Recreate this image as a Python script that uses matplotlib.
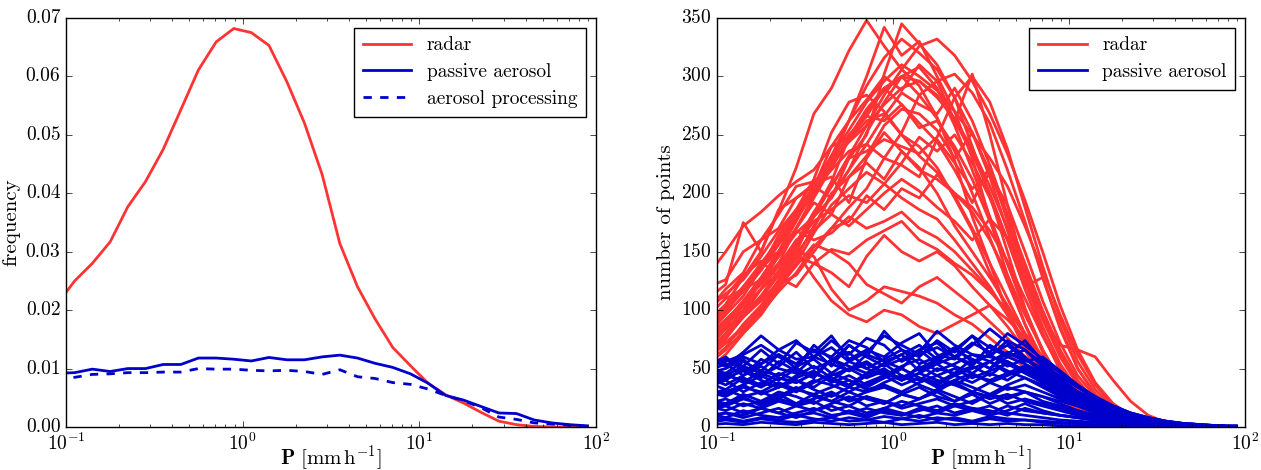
import numpy as np
import matplotlib
matplotlib.use('Agg')
import matplotlib.pyplot as plt
from matplotlib.ticker import FormatStrFormatter

plt.style.use('classic')
plt.rcParams['figure.facecolor'] = 'white'
plt.rcParams['savefig.facecolor'] = 'white'
plt.rcParams['font.family'] = ['cmr10', 'DejaVu Serif']
plt.rcParams['mathtext.fontset'] = 'cm'
plt.rcParams['axes.formatter.use_mathtext'] = True
plt.rcParams['font.size'] = 14
plt.rcParams['xtick.labelsize'] = 14
plt.rcParams['ytick.labelsize'] = 14
plt.rcParams['axes.labelsize'] = 15

# bin centres of precipitation rate [mm/h]
p_bins = [0.089, 0.112, 0.141, 0.178, 0.224, 0.282, 0.355, 0.447, 0.562, 0.708,
          0.891, 1.12, 1.41, 1.78, 2.24, 2.82, 3.55, 4.47, 5.62, 7.08,
          8.91, 11.2, 14.1, 17.8, 22.4, 28.2, 35.5, 44.7, 56.2, 70.8, 89.1]

# left panel: normalised frequency
freq_radar = [0.0210, 0.0250, 0.0280, 0.0317, 0.0377, 0.0420, 0.0475, 0.0543, 0.0611, 0.0659,
              0.0682, 0.0675, 0.0653, 0.0591, 0.0520, 0.0432, 0.0314, 0.0240, 0.0185, 0.0136,
              0.0105, 0.0075, 0.0055, 0.0041, 0.0025, 0.0010, 0.0004, 0.0001, 0.0, 0.0, 0.0]
freq_passive = [0.0092, 0.0093, 0.0099, 0.0095, 0.0100, 0.0100, 0.0107, 0.0107, 0.0118, 0.0118,
                0.0116, 0.0113, 0.0119, 0.0115, 0.0115, 0.0120, 0.0123, 0.0118, 0.0109, 0.0102,
                0.0091, 0.0075, 0.0054, 0.0046, 0.0035, 0.0024, 0.0023, 0.0012, 0.0007, 0.0004, 0.0002]
freq_processing = [0.0080, 0.0085, 0.0090, 0.0091, 0.0093, 0.0093, 0.0094, 0.0094, 0.0100, 0.0099,
                   0.0099, 0.0097, 0.0096, 0.0097, 0.0095, 0.0090, 0.0098, 0.0086, 0.0083, 0.0076,
                   0.0073, 0.0065, 0.0054, 0.0045, 0.0033, 0.0017, 0.0013, 0.0007, 0.0005, 0.0003, 0.0001]

# right panel: counts per case
radar_counts = [
    [90,105,128,150,185,222,268,290,322,348,326,306,292,265,228,180,140,98,66,40,24,14,8,4,2,1,0,0,0,0,0],
    [70,88,100,126,150,180,205,240,262,300,342,318,330,300,270,230,178,130,88,52,30,16,9,4,2,1,0,0,0,0,0],
    [110,122,175,150,186,196,206,196,230,250,302,345,328,310,282,240,198,150,102,64,38,20,11,6,3,1,0,0,0,0,0],
    [60,75,96,118,140,170,198,228,262,280,300,288,310,296,262,302,250,190,132,80,48,26,14,7,3,1,0,0,0,0,0],
    [80,96,112,136,164,186,212,252,278,284,270,250,232,218,198,170,140,110,80,52,30,18,10,5,2,1,0,0,0,0,0],
    [55,68,88,104,126,150,182,210,248,266,290,276,256,262,240,212,176,140,100,66,40,22,12,6,3,1,0,0,0,0,0],
    [100,118,132,160,182,206,210,224,246,262,268,250,240,222,196,168,132,100,70,44,26,14,8,4,2,1,0,0,0,0,0],
    [65,80,100,118,138,160,170,200,214,232,258,272,268,254,230,252,214,168,124,86,54,32,18,10,4,2,1,0,0,0,0],
    [85,100,120,140,150,170,192,182,214,226,212,236,222,200,172,150,128,104,78,54,34,20,12,6,3,1,0,0,0,0,0],
    [50,62,80,96,118,140,166,190,204,218,208,226,248,236,250,226,196,160,118,80,50,30,16,8,4,2,1,0,0,0,0],
    [75,90,108,122,140,156,176,186,198,192,208,196,186,178,160,140,120,96,72,50,32,20,12,6,3,1,0,0,0,0,0],
    [120,126,150,160,170,196,208,214,192,230,252,236,220,212,200,184,160,130,96,66,40,24,14,7,3,1,0,0,0,0,0],
    [58,72,84,102,122,130,150,170,176,198,186,204,196,216,200,188,168,142,110,78,50,30,16,8,4,2,1,0,0,0,0],
    [90,102,116,136,150,168,160,166,180,170,176,184,170,162,150,134,118,96,74,52,34,20,12,6,3,1,0,0,0,0,0],
    [68,84,98,110,130,148,168,182,172,186,200,212,202,188,176,160,178,162,128,92,60,36,20,10,4,2,1,0,0,0,0],
    [105,112,130,142,128,120,140,152,148,160,168,176,160,152,140,130,116,100,80,60,40,26,16,8,4,2,1,0,0,0,0],
    [62,76,94,108,124,146,140,132,120,146,164,150,142,150,138,120,104,86,66,48,32,20,12,6,3,1,0,0,0,0,0],
    [80,90,104,118,132,150,146,118,100,108,120,116,112,106,96,88,76,64,50,38,26,16,10,5,2,1,0,0,0,0,0],
    [95,110,118,126,140,150,128,108,96,90,100,96,86,80,88,96,104,92,76,56,40,26,16,8,4,2,1,0,0,0,0],
    [72,84,96,112,120,138,156,150,140,122,114,106,120,128,116,104,90,76,60,44,30,20,12,6,3,1,0,0,0,0,0],
    [60,72,86,98,116,132,154,170,188,204,230,252,284,296,302,286,260,220,176,128,84,50,28,14,6,3,1,0,0,0,0],
    [88,100,116,134,156,178,200,226,244,258,276,290,296,282,264,238,206,170,132,94,62,38,22,12,6,3,1,0,0,0,0],
    [66,80,96,112,134,158,184,206,230,236,246,240,234,248,282,300,278,238,188,138,92,56,32,16,8,4,2,1,0,0,0],
    [100,114,126,146,168,186,204,220,236,242,230,224,214,246,226,204,216,190,150,108,72,44,26,14,6,3,1,0,0,0,0],
    [78,92,106,126,146,166,180,196,220,252,278,300,308,290,258,220,180,140,100,66,40,24,14,7,3,1,0,0,0,0,0],
    [54,66,82,100,120,144,172,198,220,242,266,286,276,268,290,262,224,182,136,96,62,38,22,12,6,3,1,0,0,0,0],
    [130,150,172,184,198,210,220,240,248,272,290,300,284,264,236,200,162,124,88,58,36,22,12,6,3,1,0,0,0,0,0],
    [84,98,118,140,160,184,206,228,250,266,262,276,260,244,220,192,224,176,132,94,70,66,60,40,22,10,4,2,1,0,0],
    [70,86,104,124,146,170,196,222,246,270,288,300,296,284,262,234,200,160,120,128,86,50,28,14,6,3,1,0,0,0,0],
    [92,104,120,138,158,182,206,232,254,278,296,310,300,288,270,250,230,206,172,134,96,62,36,18,8,4,2,1,0,0,0],
    [64,78,94,112,132,154,180,206,232,258,284,306,326,332,318,296,268,234,194,150,104,66,38,20,10,4,2,1,0,0,0],
    [76,90,108,128,150,176,204,232,262,292,316,332,320,306,282,252,218,180,140,100,66,40,22,12,6,3,1,0,0,0,0],
]
aerosol_counts = [
    [60,52,64,78,66,58,60,74,62,76,70,56,64,82,70,62,60,74,66,52,40,28,20,14,10,6,4,2,1,1,0],
    [56,58,52,66,54,72,64,78,58,66,60,72,80,62,58,70,84,72,60,46,34,24,18,12,8,5,3,2,1,0,0],
    [50,46,56,48,62,54,66,52,70,60,82,66,60,74,64,78,60,56,48,40,30,22,16,12,8,5,3,2,1,0,0],
    [48,54,44,58,50,46,60,54,48,62,56,50,66,54,60,52,70,62,74,56,42,30,22,14,10,6,4,2,1,1,0],
    [44,40,50,42,56,48,42,58,52,46,54,62,48,56,66,58,50,60,54,46,36,26,18,12,8,5,3,2,1,0,0],
    [40,46,38,48,44,52,58,46,56,50,44,52,58,48,54,62,56,46,52,40,30,22,14,10,6,4,2,1,1,0,0],
    [38,32,42,36,46,40,34,44,50,42,48,40,46,54,44,50,56,48,42,36,28,20,14,10,6,4,2,1,0,0,0],
    [34,40,30,38,34,42,48,38,44,36,42,50,42,38,46,52,44,56,48,38,28,20,14,10,6,4,3,2,1,0,0],
    [30,26,34,30,38,32,40,36,30,38,44,36,42,34,40,46,38,44,50,42,32,22,16,10,6,4,2,1,0,0,0],
    [28,32,26,30,24,32,28,34,40,32,36,30,38,44,36,30,38,32,36,30,24,18,12,8,6,4,2,1,1,0,0],
    [24,20,28,22,30,26,20,28,24,30,34,28,24,32,38,30,26,34,30,26,20,14,10,8,5,3,2,1,0,0,0],
    [20,24,18,22,28,20,24,30,22,26,20,28,34,26,22,30,24,28,22,18,14,10,8,5,3,2,1,1,0,0,0],
    [18,14,20,16,22,18,14,20,26,18,22,16,20,24,18,22,28,20,24,20,16,12,8,6,4,2,1,1,0,0,0],
    [14,18,12,16,12,18,22,14,18,12,16,22,18,14,20,16,12,18,14,12,10,8,6,4,3,2,1,0,0,0,0],
    [10,12,8,12,16,10,12,8,14,10,16,12,8,12,10,14,18,12,10,8,6,5,4,3,2,1,1,0,0,0,0],
    [6,8,5,8,6,10,7,5,8,6,9,7,10,6,8,5,9,7,6,5,4,3,2,2,1,1,0,0,0,0,0],
    [2,3,2,4,3,2,4,3,2,3,4,2,3,4,2,3,2,3,2,2,1,1,1,1,0,0,0,0,0,0,0],
    [52,60,48,54,62,50,70,58,64,50,58,66,54,60,68,56,62,52,58,50,44,34,26,18,12,8,5,3,2,1,0],
    [46,50,58,44,52,64,50,56,70,60,52,58,66,72,60,54,62,70,58,48,38,28,20,14,10,6,4,2,1,1,0],
    [36,42,48,40,34,44,52,42,36,46,54,44,40,50,46,58,50,64,56,60,48,36,26,18,12,8,5,3,2,1,0],
    [42,36,44,52,42,38,46,40,50,56,46,40,52,44,50,42,48,54,46,38,30,24,18,14,10,6,4,2,1,0,0],
    [26,30,36,28,34,40,32,26,34,30,38,44,36,30,40,34,28,36,42,34,26,20,14,10,6,4,2,1,1,0,0],
    [16,20,26,18,24,20,28,22,18,26,22,18,24,30,22,28,20,26,30,22,18,14,10,8,5,3,2,1,0,0,0],
    [8,12,10,16,12,8,14,18,12,8,14,10,16,12,18,14,10,14,20,14,10,8,6,4,3,2,1,1,0,0,0],
    [54,56,62,70,60,54,66,60,74,68,56,62,70,58,66,78,68,60,66,54,42,30,22,16,10,6,4,2,1,1,0],
    [58,52,60,54,66,74,60,68,56,64,78,70,62,68,60,72,64,80,70,58,46,34,24,16,10,7,4,2,1,0,0],
    [32,28,36,44,36,30,38,46,40,34,42,50,42,36,44,38,46,40,50,44,38,30,24,18,12,8,5,3,2,1,1],
    [22,18,24,20,26,34,26,22,30,24,20,28,24,32,26,20,28,24,30,26,22,18,14,10,8,5,3,2,1,1,0],
    [12,8,14,10,8,12,16,10,12,16,12,10,14,18,12,16,14,10,16,12,10,8,6,5,4,3,2,1,1,0,0],
    [4,6,4,7,5,4,6,8,5,6,4,7,5,8,6,4,7,5,6,4,3,3,2,2,1,1,1,0,0,0,0],
    [48,44,52,46,40,50,44,58,48,54,46,42,50,58,52,46,56,64,58,50,40,30,22,16,10,6,4,2,1,1,0],
    [38,44,40,34,42,38,46,40,34,44,50,40,46,40,36,44,40,46,52,44,34,26,20,14,10,6,4,3,2,1,1],
]

red = '#ff3333'
blue = '#0000cc'
xlabel = r'$\mathbf{P}\ [\mathrm{mm\,h^{-1}}]$'

fig = plt.figure(figsize=(12.61, 4.70), dpi=100)
ax1 = fig.add_axes([0.0523, 0.0915, 0.4203, 0.8702])
ax2 = fig.add_axes([0.5686, 0.0915, 0.4187, 0.8702])

# left: frequency distributions
ax1.plot(p_bins, freq_radar, color=red, lw=2, label='radar')
ax1.plot(p_bins, freq_passive, color=blue, lw=2, label='passive aerosol')
ax1.plot(p_bins, freq_processing, color=blue, lw=2, ls='--', label='aerosol processing')
ax1.set_xscale('log')
ax1.set_xlim(0.1, 100)
ax1.set_ylim(0, 0.07)
ax1.yaxis.set_major_formatter(FormatStrFormatter('%.2f'))
ax1.set_ylabel('frequency', labelpad=4)
ax1.legend(loc='upper right', fancybox=False, fontsize=14, handlelength=2.5,
           numpoints=1, borderpad=0.45, labelspacing=0.45)

# right: counts for every case
for i, c in enumerate(radar_counts):
    ax2.plot(p_bins, c, color=red, lw=2, label='radar' if i == 0 else None)
for i, c in enumerate(aerosol_counts):
    ax2.plot(p_bins, c, color=blue, lw=2, label='passive aerosol' if i == 0 else None)
ax2.set_xscale('log')
ax2.set_xlim(0.1, 100)
ax2.set_ylim(0, 350)
ax2.set_ylabel('number of points', labelpad=4)
ax2.legend(loc='upper right', fancybox=False, fontsize=14, handlelength=2.5,
           numpoints=1, borderpad=0.45, labelspacing=0.45)

for ax in (ax1, ax2):
    ax.tick_params(axis='x', pad=4)
    ax.set_xlabel(xlabel, va='center')
    ax.xaxis.set_label_coords(0.5, -0.077)

fig.savefig('out.png', dpi=100)
